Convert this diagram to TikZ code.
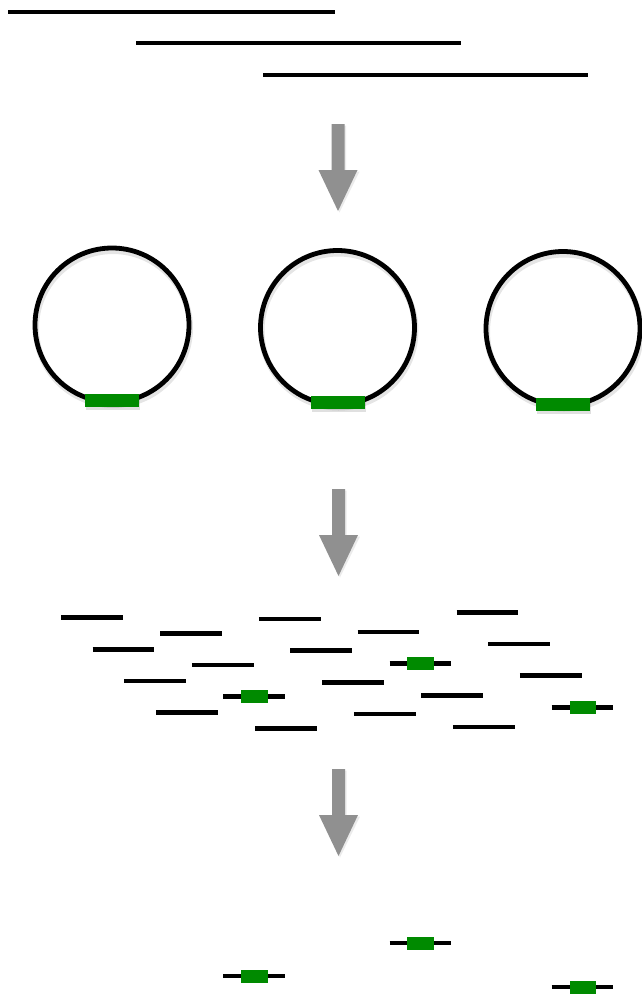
\documentclass[tikz,border=0pt]{standalone}
\begin{document}
\begin{tikzpicture}[x=1pt,y=-1pt,
  dna/.style={line width=4.6pt,black},
  ring/.style={line width=4.8pt,black},
  ringshadow/.style={line width=6pt,black,opacity=0.10},
  tag/.style={fill=tagg,draw=none},
  tagshadow/.style={fill=black,opacity=0.12,draw=none},
  blockarrow/.style={fill=arrowgray,draw=none},
  arrowshadow/.style={fill=black,opacity=0.08,draw=none}]
\definecolor{tagg}{RGB}{0,138,0}
\definecolor{arrowgray}{RGB}{144,144,144}
\useasboundingbox (0,0) rectangle (641,997);
\fill[white] (0,0) rectangle (641,997);

% --- long genomic sequences
\draw[dna] (8,12) -- (335,12);
\draw[dna] (136,43) -- (461,43);
\draw[dna] (263,75) -- (588,75);

% --- block arrows
\foreach \top/\cx in {124/338,489/338.5,769/338.5}{
  \fill[arrowshadow] (\cx-6.5+1.5,\top+1.5) -- (\cx+6.5+1.5,\top+1.5) -- (\cx+6.5+1.5,\top+47.5) -- (\cx+20+1.5,\top+47.5) -- (\cx+1.5,\top+88.5) -- (\cx-19.5+1.5,\top+47.5) -- (\cx-6.5+1.5,\top+47.5) -- cycle;
  \fill[blockarrow] (\cx-6.5,\top) -- (\cx+6.5,\top) -- (\cx+6.5,\top+46) -- (\cx+19.5,\top+46) -- (\cx,\top+87) -- (\cx-19.5,\top+46) -- (\cx-6.5,\top+46) -- cycle;
}

% --- circular vectors with inserts
\foreach \cx/\cy/\ty in {112/325/400,337.5/327.5/402.5,563/328.5/404.5}{
  \draw[ringshadow] (\cx+1,\cy+3) circle[radius=77];
  \draw[ring,fill=none] (\cx,\cy) circle[radius=77];
  \fill[tagshadow] (\cx-27+1,\ty-6.5+3) rectangle (\cx+27+1,\ty+6.5+3);
  \fill[tag] (\cx-27,\ty-6.5) rectangle (\cx+27,\ty+6.5);
}

% --- sheared fragments
\foreach \x/\y in {
  61/617.7, 92.5/649.3, 124.3/681, 156.1/712.7,
  160/633.3, 191.8/665, 255/728.3,
  258.9/619, 290.3/650.7, 322.1/682.3, 353.9/714,
  357.7/632, 421/695.3, 452.8/727,
  456.6/612.3, 488.4/644, 519.9/675.7}{
  \draw[dna] (\x,\y) -- (\x+61.7,\y);
}
% fragments carrying the insert (library) and selected fragments
\foreach \x/\y in {223.2/696.7, 389.6/663.7, 551.7/707.3,
                   223.2/976, 389.6/943, 551.7/987}{
  \draw[dna] (\x,\y) -- (\x+61.7,\y);
  \fill[tag] (\x+17.8,\y-6.5) rectangle (\x+44.3,\y+6.5);
}
\end{tikzpicture}
\end{document}
